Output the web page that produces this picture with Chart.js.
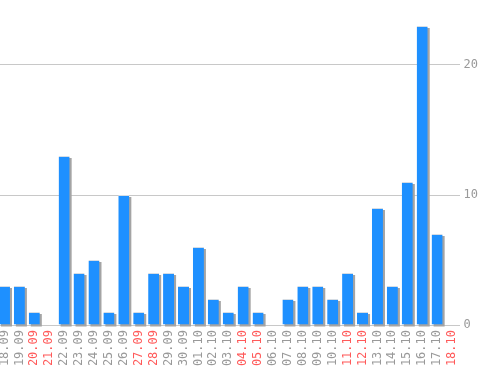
<!DOCTYPE html>
<html>
<head>
<meta charset="utf-8">
<script src="https://cdn.jsdelivr.net/npm/chart.js@4"></script>
<style>
  html, body { margin: 0; padding: 0; background: #fff; overflow: hidden; }
  #wrap { width: 501px; height: 370px; margin-left: -3px; }
</style>
</head>
<body>
<div id="wrap"><canvas id="chart"></canvas></div>
<script>
const days = ['18.09', '19.09', '20.09', '21.09', '22.09', '23.09', '24.09', '25.09', '26.09', '27.09',
    '28.09', '29.09', '30.09', '01.10', '02.10', '03.10', '04.10', '05.10', '06.10', '07.10',
    '08.10', '09.10', '10.10', '11.10', '12.10', '13.10', '14.10', '15.10', '16.10', '17.10', '18.10'];
const counts = [3, 3, 1, 0, 13, 4, 5, 1, 10, 1, 4, 4, 3, 6, 2, 1, 3, 1, 0, 2, 3, 3, 2, 4, 1, 9, 3, 11, 23, 7, 0];
const weekendDays = ['20.09', '21.09', '27.09', '28.09', '04.10', '05.10', '11.10', '12.10', '18.10'];
const yTicks = [0, 10, 20];

// grey drop shadow behind each bar, taken from the bar elements
const shadowPlugin = {
    id: 'barShadow',
    beforeDatasetsDraw(chart) {
        const ctx = chart.ctx;
        const meta = chart.getDatasetMeta(0);
        ctx.save();
        ctx.fillStyle = '#a4a4a4';
        meta.data.forEach(bar => {
            const p = bar.getProps(['x', 'y', 'base', 'width'], true);
            ctx.fillRect(p.x - p.width / 2 + 2, p.y + 2, p.width, p.base - p.y);
        });
        ctx.restore();
    }
};

const font = { family: 'DejaVu Sans Mono', size: 12 };

new Chart(document.getElementById('chart'), {
    type: 'bar',
    data: {
        labels: days,
        datasets: [{
            data: counts,
            backgroundColor: '#1e90ff',
            borderColor: '#d6dde4',
            borderWidth: { top: 1, left: 0, right: 0, bottom: 0 },
            borderSkipped: 'bottom',
            barPercentage: 0.74,
            categoryPercentage: 1
        }]
    },
    options: {
        responsive: true,
        maintainAspectRatio: false,
        animation: false,
        layout: { padding: 0 },
        plugins: { legend: { display: false }, tooltip: { enabled: false } },
        scales: {
            x: {
                grid: { display: false, drawTicks: false },
                border: { display: false },
                ticks: {
                    font: font,
                    minRotation: 90,
                    maxRotation: 90,
                    autoSkip: false,
                    padding: 5,
                    color: (c) => weekendDays.includes(days[c.index]) ? '#ff5a5a' : '#999999'
                },
                afterFit: (s) => {
                    s.height = 45;
                    s.paddingLeft = 0;
                    s.paddingRight = 0;
                }
            },
            y: {
                position: 'right',
                min: 0,
                max: 25,
                grid: { color: '#c8c8c8', lineWidth: 1, drawTicks: false },
                border: { display: false },
                afterBuildTicks: (s) => { s.ticks = yTicks.map(v => ({ value: v })); },
                ticks: { font: font, color: '#999999', padding: 4 },
                afterFit: (s) => {
                    s.width = 38.5;
                    s.paddingTop = 0;
                    s.paddingBottom = 0;
                }
            }
        }
    },
    plugins: [shadowPlugin]
});
</script>
</body>
</html>
